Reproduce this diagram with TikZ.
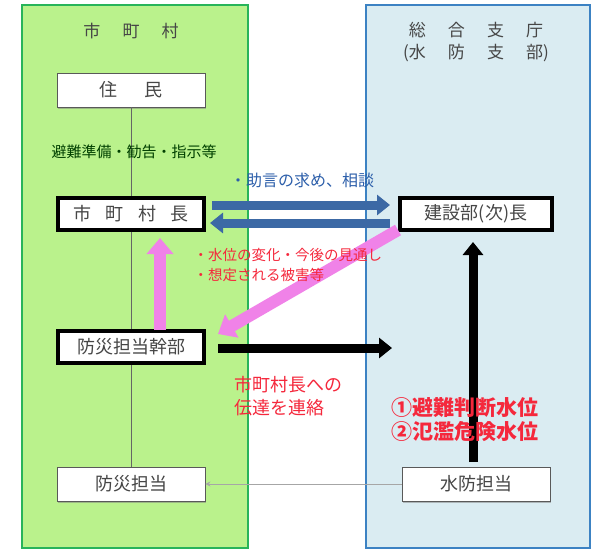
\documentclass[tikz,border=0pt]{standalone}
\usepackage{fontspec}
\setmainfont{Noto Sans CJK JP}
\usetikzlibrary{arrows.meta,shadows}
\definecolor{gfill}{RGB}{186,242,140}
\definecolor{gline}{RGB}{40,180,90}
\definecolor{bfill}{RGB}{218,236,242}
\definecolor{bline}{RGB}{60,130,195}
\definecolor{arrblue}{RGB}{60,105,165}
\definecolor{txtred}{RGB}{245,40,60}
\definecolor{txtblue}{RGB}{45,95,170}
\definecolor{pinkc}{RGB}{240,130,232}
\definecolor{txtgray}{RGB}{70,70,70}
\tikzset{
  panel/.style={draw, line width=2pt},
  thinbox/.style={draw=gray!70!black, fill=white, line width=0.8pt, minimum width=148pt, minimum height=34pt, font=\fontsize{18}{18}\selectfont, text=txtgray, drop shadow={shadow xshift=1pt, shadow yshift=-1.5pt, opacity=0.5}},
  thickbox/.style={draw=black, fill=white, line width=3.5pt, minimum width=146pt, minimum height=32pt, font=\fontsize{18}{18}\selectfont, text=txtgray, drop shadow={shadow xshift=1pt, shadow yshift=-1.5pt, opacity=0.5}},
  fatarrow/.style={line width=9pt, -{Triangle[length=13pt,width=20pt]}},
  pinkarrow/.style={line width=12pt, pinkc, -{Triangle[length=16pt,width=26pt]}},
  redtxt/.style={text=txtred, align=left},
}
\begin{document}
\begin{tikzpicture}[x=1pt,y=-1pt]
\useasboundingbox (0,0) rectangle (597,554);
\fill[white] (0,0) rectangle (597,554);
% panels
\draw[panel, draw=gline, fill=gfill] (22,5) rectangle (248,548);
\draw[panel, draw=bline, fill=bfill] (366,5) rectangle (590,548);
\node[text=txtgray, font=\fontsize{17}{17}\selectfont] (tleft) at (131,31) {市\hspace{1.3em}町\hspace{1.3em}村};
\node[text=txtgray, font=\fontsize{17}{22}\selectfont, align=center] (tright) at (476,42) {総\hspace{1.3em}合\hspace{1.3em}支\hspace{1.3em}庁\\(水\hspace{1.3em}防\hspace{1.3em}支\hspace{1.3em}部)};
% boxes
\node[thinbox] (jumin) at (131,90) {住\hspace{1.5em}民};
\node[thickbox] (chou) at (131,214) {市\hspace{0.8em}町\hspace{0.8em}村\hspace{0.8em}長};
\node[thickbox] (kanbu) at (131,347) {防災担当幹部};
\node[thinbox] (bousai) at (131,484) {防災担当};
\node[thickbox, minimum width=152pt] (kensetsu) at (476,214) {建設部(次)長};
\node[thinbox] (suibou) at (476,484) {水防担当};
% thin connectors
\draw[black!60, line width=0.6pt] (jumin.south) -- (chou.north);
\draw[black!60, line width=0.6pt] (chou.south) -- (kanbu.north);
\draw[black!60, line width=0.6pt] (kanbu.south) -- (bousai.north);
\draw[gray!70, line width=1pt, -{Stealth[length=5pt,width=5pt]}] (suibou.west) -- (bousai.east);
\node[text=black!75!green, font=\fontsize{15}{15}\selectfont] (hinan) at (134,152) {避難準備・勧告・指示等};
% blue arrows
\coordinate (b1s) at (212,205);
\coordinate (b1e) at (390,205);
\coordinate (b2s) at (390,223);
\coordinate (b2e) at (210,223);
\draw[fatarrow, arrblue] (b1s) -- (b1e);
\draw[fatarrow, arrblue] (b2s) -- (b2e);
\node[text=txtblue, font=\fontsize{16}{16}\selectfont] (sodan) at (302,180) {・助言の求め、相談};
% pink arrows
\coordinate (p1s) at (160,330);
\coordinate (p1e) at (160,238);
\draw[pinkarrow] (p1s) -- (p1e);
\coordinate (p2s) at (398,230);
\coordinate (p2e) at (218,334);
\draw[pinkarrow] (p2s) -- (p2e);
\node[redtxt, anchor=west, font=\fontsize{14.5}{20}\selectfont] (suii) at (190,265) {・水位の変化・今後の見通し\\・想定される被害等};
% black arrows
\coordinate (k1s) at (218,348);
\coordinate (k1e) at (392,348);
\draw[fatarrow, black] (k1s) -- (k1e);
\coordinate (k2s) at (473,462);
\coordinate (k2e) at (473,242);
\draw[fatarrow, black] (k2s) -- (k2e);
\node[redtxt, anchor=west, font=\fontsize{18}{23}\selectfont] (dentatsu) at (231,396) {市町村長への\\伝達を連絡};
\node[redtxt, anchor=west, font=\bfseries\fontsize{21}{24}\selectfont] (suii2) at (388,420) {①避難判断水位\\②氾濫危険水位};
\end{tikzpicture}
\end{document}
